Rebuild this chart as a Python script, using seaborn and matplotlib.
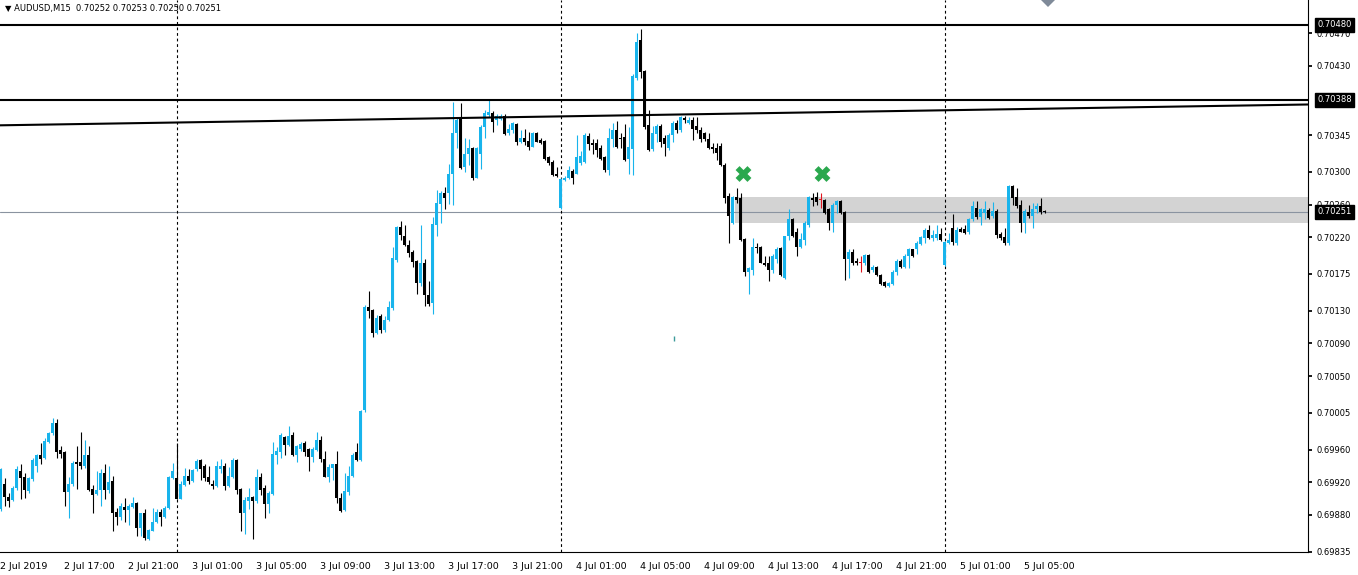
import matplotlib
matplotlib.use('Agg')

import numpy as np
import pandas as pd
import matplotlib.pyplot as plt
import seaborn as sns
from matplotlib import transforms
from matplotlib.patches import Rectangle, Polygon

# AUDUSD M15, 2 Jul 13:00 -> 5 Jul 06:00, prices in points (1e-5)
opens = [
    69887, 69918, 69902, 69898, 69913, 69934, 69927, 69909, 69924, 69940,
    69954, 69950, 69969, 69980, 69993, 69959, 69957, 69908, 69918, 69945,
    69945, 69940, 69953, 69912, 69906, 69911, 69932, 69910, 69921, 69884,
    69878, 69890, 69886, 69890, 69895, 69864, 69883, 69851, 69861, 69871,
    69884, 69877, 69888, 69925, 69925, 69900, 69917, 69928, 69921, 69936,
    69947, 69940, 69927, 69918, 69916, 69936, 69940, 69916, 69927, 69947,
    69912, 69882, 69897, 69902, 69897, 69927, 69913, 69893, 69906, 69953,
    69957, 69976, 69966, 69978, 69954, 69961, 69968, 69961, 69951, 69959,
    69972, 69949, 69927, 69938, 69942, 69901, 69886, 69908, 69928, 69957,
    69947, 70008, 70135, 70131, 70103, 70123, 70106, 70119, 70133, 70192,
    70232, 70221, 70210, 70202, 70191, 70164, 70188, 70149, 70139, 70235,
    70261, 70274, 70274, 70298, 70347, 70367, 70306, 70322, 70329, 70293,
    70322, 70355, 70370, 70372, 70363, 70365, 70369, 70347, 70351, 70359,
    70337, 70342, 70338, 70331, 70347, 70339, 70338, 70318, 70312, 70297,
    70256, 70290, 70292, 70301, 70298, 70311, 70312, 70344, 70335, 70335,
    70329, 70318, 70302, 70340, 70351, 70342, 70343, 70316, 70328, 70415,
    70461, 70424, 70357, 70328, 70346, 70356, 70341, 70329, 70345, 70360,
    70351, 70366, 70360, 70363, 70356, 70351, 70347, 70340, 70330, 70329,
    70332, 70309, 70270, 70237, 70269, 70268, 70218, 70178, 70180, 70208,
    70208, 70189, 70188, 70180, 70193, 70207, 70170, 70221, 70242, 70226,
    70208, 70217, 70235, 70268, 70269, 70266, 70265, 70254, 70237, 70260,
    70264, 70251, 70193, 70202, 70191, 70188, 70188, 70198, 70180, 70184,
    70174, 70165, 70160, 70163, 70177, 70191, 70184, 70197, 70205, 70205,
    70212, 70219, 70229, 70219, 70219, 70224, 70186, 70213, 70231, 70213,
    70230, 70230, 70226, 70242, 70256, 70245, 70250, 70253, 70246, 70252,
    70224, 70220, 70213, 70283, 70269, 70260, 70238, 70251, 70246, 70254,
    70258, 70252,
]
highs = [
    69938, 69925, 69907, 69915, 69940, 69942, 69931, 69927, 69950, 69955,
    69968, 69974, 69982, 69999, 69997, 69964, 69958, 69927, 69946, 69965,
    69982, 69972, 69964, 69917, 69934, 69936, 69942, 69940, 69928, 69889,
    69895, 69901, 69893, 69902, 69896, 69883, 69887, 69863, 69889, 69887,
    69887, 69891, 69928, 69944, 69968, 69921, 69938, 69936, 69936, 69949,
    69948, 69942, 69940, 69923, 69946, 69949, 69944, 69939, 69950, 69949,
    69913, 69902, 69913, 69903, 69936, 69931, 69917, 69909, 69969, 69963,
    69980, 69977, 69989, 69982, 69966, 69969, 69970, 69962, 69963, 69982,
    69977, 69958, 69942, 69943, 69958, 69907, 69931, 69940, 69956, 69968,
    70009, 70137, 70154, 70132, 70125, 70126, 70123, 70142, 70208, 70234,
    70240, 70235, 70217, 70204, 70192, 70235, 70193, 70166, 70245, 70278,
    70277, 70281, 70310, 70386, 70367, 70384, 70341, 70340, 70331, 70331,
    70357, 70376, 70388, 70375, 70371, 70371, 70371, 70359, 70361, 70360,
    70351, 70353, 70349, 70349, 70349, 70341, 70339, 70319, 70314, 70306,
    70292, 70295, 70307, 70303, 70345, 70325, 70348, 70348, 70340, 70340,
    70333, 70320, 70354, 70360, 70362, 70347, 70359, 70355, 70420, 70470,
    70475, 70425, 70376, 70356, 70359, 70359, 70345, 70347, 70362, 70364,
    70368, 70368, 70367, 70367, 70367, 70355, 70349, 70347, 70335, 70335,
    70335, 70311, 70274, 70270, 70280, 70274, 70219, 70184, 70219, 70213,
    70209, 70197, 70197, 70199, 70208, 70208, 70222, 70254, 70243, 70231,
    70225, 70240, 70270, 70274, 70275, 70274, 70267, 70256, 70262, 70266,
    70266, 70252, 70205, 70205, 70195, 70197, 70199, 70199, 70186, 70185,
    70175, 70166, 70165, 70180, 70193, 70193, 70199, 70207, 70206, 70215,
    70221, 70231, 70235, 70229, 70235, 70231, 70215, 70225, 70248, 70233,
    70233, 70235, 70244, 70264, 70264, 70256, 70264, 70256, 70263, 70254,
    70226, 70231, 70284, 70284, 70280, 70266, 70254, 70260, 70262, 70262,
    70268, 70253,
]
lows = [
    69885, 69891, 69890, 69897, 69911, 69899, 69901, 69907, 69921, 69933,
    69942, 69948, 69968, 69978, 69950, 69950, 69891, 69876, 69915, 69912,
    69936, 69938, 69909, 69882, 69905, 69891, 69899, 69907, 69861, 69868,
    69874, 69871, 69868, 69888, 69854, 69854, 69850, 69850, 69860, 69870,
    69866, 69876, 69887, 69924, 69899, 69899, 69916, 69918, 69920, 69934,
    69923, 69921, 69918, 69912, 69914, 69931, 69911, 69914, 69925, 69906,
    69861, 69857, 69887, 69851, 69895, 69904, 69876, 69883, 69905, 69942,
    69950, 69954, 69964, 69952, 69945, 69958, 69952, 69934, 69945, 69958,
    69945, 69926, 69920, 69923, 69895, 69884, 69885, 69905, 69927, 69946,
    69946, 70006, 70121, 70098, 70102, 70103, 70104, 70117, 70131, 70190,
    70217, 70209, 70196, 70184, 70151, 70160, 70136, 70136, 70126, 70221,
    70237, 70254, 70261, 70259, 70329, 70304, 70300, 70308, 70290, 70292,
    70304, 70341, 70367, 70349, 70357, 70364, 70345, 70345, 70347, 70333,
    70335, 70333, 70327, 70330, 70336, 70334, 70314, 70309, 70295, 70294,
    70255, 70289, 70291, 70285, 70297, 70308, 70311, 70327, 70322, 70318,
    70315, 70300, 70296, 70331, 70329, 70329, 70313, 70298, 70296, 70413,
    70415, 70352, 70325, 70325, 70337, 70331, 70319, 70327, 70336, 70347,
    70349, 70360, 70359, 70339, 70347, 70337, 70338, 70328, 70323, 70315,
    70307, 70262, 70213, 70236, 70262, 70216, 70172, 70150, 70174, 70201,
    70188, 70185, 70166, 70176, 70189, 70173, 70169, 70217, 70220, 70197,
    70207, 70211, 70233, 70258, 70260, 70256, 70248, 70229, 70226, 70250,
    70248, 70168, 70170, 70186, 70186, 70177, 70186, 70176, 70178, 70172,
    70162, 70159, 70159, 70162, 70174, 70182, 70182, 70182, 70196, 70199,
    70211, 70213, 70218, 70216, 70217, 70215, 70185, 70212, 70211, 70211,
    70226, 70224, 70224, 70240, 70242, 70235, 70242, 70242, 70244, 70219,
    70217, 70210, 70211, 70260, 70256, 70226, 70225, 70244, 70231, 70250,
    70249, 70250,
]
closes = [
    69936, 69902, 69897, 69913, 69936, 69925, 69911, 69925, 69947, 69953,
    69948, 69970, 69980, 69993, 69957, 69955, 69908, 69918, 69944, 69942,
    69940, 69953, 69911, 69905, 69911, 69931, 69910, 69920, 69883, 69878,
    69891, 69886, 69891, 69895, 69864, 69882, 69852, 69862, 69872, 69884,
    69877, 69889, 69927, 69934, 69900, 69918, 69928, 69921, 69935, 69946,
    69936, 69925, 69920, 69915, 69940, 69940, 69915, 69928, 69947, 69911,
    69882, 69898, 69902, 69897, 69927, 69911, 69893, 69907, 69955, 69958,
    69978, 69966, 69977, 69954, 69964, 69967, 69957, 69951, 69961, 69972,
    69949, 69927, 69939, 69942, 69901, 69885, 69909, 69928, 69954, 69947,
    70007, 70135, 70130, 70103, 70121, 70106, 70119, 70135, 70195, 70232,
    70223, 70210, 70201, 70190, 70164, 70188, 70149, 70138, 70236, 70262,
    70274, 70268, 70298, 70347, 70364, 70305, 70322, 70329, 70293, 70329,
    70355, 70372, 70373, 70361, 70368, 70368, 70346, 70353, 70360, 70337,
    70342, 70336, 70331, 70347, 70337, 70335, 70316, 70311, 70296, 70295,
    70291, 70293, 70302, 70292, 70318, 70320, 70345, 70334, 70333, 70327,
    70316, 70302, 70341, 70351, 70331, 70340, 70314, 70330, 70417, 70459,
    70422, 70355, 70327, 70348, 70356, 70337, 70334, 70345, 70360, 70351,
    70367, 70363, 70364, 70353, 70351, 70340, 70340, 70329, 70328, 70323,
    70309, 70268, 70246, 70269, 70266, 70217, 70178, 70182, 70208, 70207,
    70189, 70186, 70180, 70197, 70206, 70174, 70221, 70242, 70221, 70208,
    70218, 70237, 70269, 70266, 70263, 70266, 70250, 70237, 70260, 70264,
    70250, 70193, 70202, 70189, 70188, 70188, 70198, 70178, 70184, 70174,
    70163, 70160, 70164, 70178, 70191, 70184, 70197, 70205, 70197, 70213,
    70220, 70229, 70219, 70223, 70224, 70217, 70214, 70217, 70214, 70229,
    70227, 70225, 70242, 70258, 70245, 70254, 70254, 70244, 70252, 70223,
    70219, 70213, 70283, 70268, 70258, 70238, 70252, 70246, 70255, 70258,
    70251, 70251,
]

tick_bars = [0, 16, 32, 48, 64, 80, 96, 112, 128, 144, 160, 176, 192, 208, 224, 240, 256]
tick_names = ['2 Jul 2019', '2 Jul 17:00', '2 Jul 21:00', '3 Jul 01:00', '3 Jul 05:00',
              '3 Jul 09:00', '3 Jul 13:00', '3 Jul 17:00', '3 Jul 21:00', '4 Jul 01:00',
              '4 Jul 05:00', '4 Jul 09:00', '4 Jul 13:00', '4 Jul 17:00', '4 Jul 21:00',
              '5 Jul 01:00', '5 Jul 05:00']
day_breaks = [44, 140, 236]
price_ticks = [0.70470, 0.70430, 0.70345, 0.70300, 0.70260, 0.70220, 0.70175, 0.70130,
               0.70090, 0.70050, 0.70005, 0.69960, 0.69920, 0.69880, 0.69835]
levels = [0.70480, 0.70388]
last_price = 0.70251
trend_start = 0.70357
trend_end = 0.703825
zone_low, zone_high = 0.702375, 0.70269
zone_start = 183.5
cross_bars = [185.75, 205.5]
cross_price = 0.702974

UP = '#18b4ec'
DOWN = '#000000'
DOJI = '#e0141e'

sns.set_theme(style='white')
plt.rcParams['font.family'] = ['DejaVu Sans']

df = pd.DataFrame({'open': opens, 'high': highs, 'low': lows, 'close': closes}) / 1e5
df['bar'] = np.arange(len(df))
df['color'] = np.where(df['close'] > df['open'], UP,
                       np.where(df['close'] < df['open'], DOWN, DOJI))

fig = plt.figure(figsize=(13.58, 5.75), dpi=100)
ax = fig.add_axes([0, 23 / 575, 1308 / 1358, 552 / 575])

# 4 px per bar
x_left, x_right = -0.125, 326.875
ax.set_xlim(x_left, x_right)
ax.set_ylim(0.698347, 0.705104)

# support zone
ax.add_patch(Rectangle((zone_start, zone_low), x_right - zone_start, zone_high - zone_low,
                       facecolor='#d3d3d3', edgecolor='none', zorder=0.5))

# candles
ax.vlines(df['bar'], df['low'], df['high'], colors=df['color'], linewidth=0.8, zorder=2)
body = (df['close'] - df['open']).abs().clip(lower=0.0000125)
ax.bar(df['bar'], body, bottom=df[['open', 'close']].min(axis=1), width=0.78,
       color=df['color'], edgecolor='none', linewidth=0, zorder=2)

# levels and trendline
for lv in levels:
    ax.axhline(lv, color='black', linewidth=1.5, zorder=3)
ax.plot([x_left, x_right], [trend_start, trend_end], color='black', linewidth=1.5, zorder=3)
ax.axhline(last_price, color='#8a93a0', linewidth=0.8, zorder=1)

for d in day_breaks:
    ax.axvline(d, color='black', linewidth=0.8, linestyle=(0, (2.5, 2.5)), zorder=1)

sns.scatterplot(x=cross_bars, y=[cross_price] * len(cross_bars), marker='X', s=130,
                color='#2aa84e', edgecolor='none', legend=False, ax=ax, zorder=5)

ax.vlines(168.4, 0.70093, 0.70099, colors='#3c9a9a', linewidth=1)

# axes look
for side in ['left', 'top']:
    ax.spines[side].set_visible(False)
for side in ['right', 'bottom']:
    ax.spines[side].set_color('black')
    ax.spines[side].set_linewidth(0.8)

ax.yaxis.tick_right()
ax.set_yticks(price_ticks)
ax.set_yticklabels(['%.5f' % p for p in price_ticks])
ax.tick_params(axis='y', direction='out', length=3, pad=3, labelsize=6, colors='black')
ax.set_xticks(tick_bars)
ax.set_xticklabels(tick_names)
ax.tick_params(axis='x', direction='out', length=3, pad=4, labelsize=6.8, colors='black')
for lbl in ax.get_xticklabels():
    lbl.set_ha('left')
ax.set_xlabel('')
ax.set_ylabel('')

# price boxes on the right scale
trans = transforms.blended_transform_factory(ax.transAxes, ax.transData)
for p in levels + [last_price]:
    ax.text(1317 / 1308, p, '%.5f' % p, transform=trans, ha='left', va='center',
            fontsize=6, color='white', clip_on=False, zorder=10,
            bbox=dict(boxstyle='square,pad=0.3', facecolor='black', edgecolor='black'))

fig.text(5 / 1358, 1 - 9 / 575, '\u25bc AUDUSD,M15  0.70252 0.70253 0.70250 0.70251',
         ha='left', va='center', fontsize=6.0, color='black')

fig.patches.append(Polygon([(1041 / 1358, 1), (1055 / 1358, 1), (1048 / 1358, 1 - 7 / 575)],
                           closed=True, transform=fig.transFigure, facecolor='#7f8a99',
                           edgecolor='none'))

fig.savefig('out.png', dpi=100)
